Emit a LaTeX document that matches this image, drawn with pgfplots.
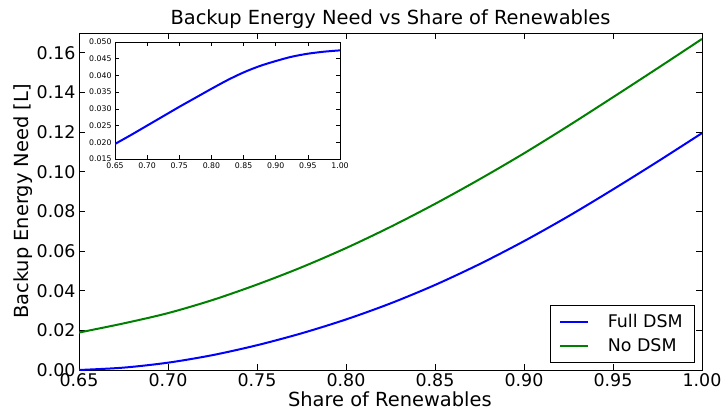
\documentclass[border=0pt]{standalone}
\usepackage{fontspec}
\setmainfont{DejaVu Sans}
\usepackage{pgfplots}
\pgfplotsset{compat=1.18}
\definecolor{mplblue}{rgb}{0,0,1}
\definecolor{mplgreen}{rgb}{0,0.5,0}
\pgfplotsset{
  fx/.style={xticklabel style={/pgf/number format/fixed, /pgf/number format/fixed zerofill, /pgf/number format/precision=#1}},
  fy/.style={yticklabel style={/pgf/number format/fixed, /pgf/number format/fixed zerofill, /pgf/number format/precision=#1}},
}
\begin{document}
\begin{tikzpicture}[x=1bp,y=1bp]
\useasboundingbox (0,0) rectangle (722,410);
\begin{axis}[
  at={(79bp,40bp)}, anchor=south west,
  scale only axis, width=623bp, height=337bp,
  xmin=0.65, xmax=1.0, ymin=0, ymax=0.17,
  xtick={0.65,0.70,...,1.001},
  ytick={0,0.02,...,0.161},
  tick align=inside, major tick length=6bp,
  minor tick num=0,
  /pgf/number format/assume math mode=true,
  fx=2, fy=2,
  scaled ticks=false,
  tick label style={font=\fontsize{17.5}{20}\selectfont},
  label style={font=\fontsize{19.5}{22}\selectfont},
  title style={font=\fontsize{19.5}{22}\selectfont, at={(axis description cs:0.5,1)}, anchor=base, yshift=2.5bp, inner sep=0pt},
  title={Backup Energy Need vs Share of Renewables},
  xlabel={Share of Renewables},
  ylabel={Backup Energy Need [L]},
  xlabel style={at={(axis description cs:0.499,-0.086)}, anchor=center},
  ylabel style={at={(axis description cs:-0.089,0.5)}, anchor=center},
  axis line style={line width=0.8bp},
  every tick/.style={black, line width=0.8bp},
  legend style={at={(0.987,0.024)}, anchor=south east,
    font=\fontsize{17.5}{20}\selectfont, draw=black,
    inner xsep=9bp, inner ysep=7bp, row sep=5bp, cells={anchor=west}},
  legend image code/.code={\draw[#1] (0bp,0bp) -- (28bp,0bp);},
  legend image post style={line width=2bp},
]
\addplot[mplblue, line width=2bp, smooth] coordinates {
(0.65,0.0000) (0.675,0.0012) (0.70,0.0037) (0.725,0.0075) (0.75,0.0125)
(0.775,0.0185) (0.80,0.0255) (0.825,0.0336) (0.85,0.0429) (0.875,0.0534)
(0.90,0.0650) (0.925,0.0776) (0.95,0.0911) (0.975,0.1051) (1.00,0.1195)};
\addlegendentry{\hspace{17bp}Full DSM}
\addplot[mplgreen, line width=2bp, smooth] coordinates {
(0.65,0.0189) (0.675,0.0235) (0.70,0.0287) (0.725,0.0353) (0.75,0.0431)
(0.775,0.0518) (0.80,0.0615) (0.825,0.0722) (0.85,0.0838) (0.875,0.0962)
(0.90,0.1093) (0.925,0.1232) (0.95,0.1376) (0.975,0.1522) (1.00,0.1670)};
\addlegendentry{\hspace{17bp}No DSM}
\end{axis}
\begin{axis}[
  at={(115bp,251bp)}, anchor=south west,
  scale only axis, width=225bp, height=117bp,
  xmin=0.65, xmax=1.0, ymin=0.015, ymax=0.050,
  xtick={0.65,0.70,...,1.001},
  ytick={0.015,0.020,...,0.0501},
  tick align=inside, major tick length=4bp,
  /pgf/number format/assume math mode=true,
  fx=2, fy=3,
  scaled ticks=false,
  tick label style={font=\fontsize{7.8}{9}\selectfont},
  axis line style={line width=0.8bp},
  every tick/.style={black, line width=0.6bp},
  axis background/.style={fill=white},
]
\addplot[mplblue, line width=2bp, smooth] coordinates {
(0.65,0.0195) (0.675,0.0222) (0.70,0.0250) (0.725,0.0278) (0.75,0.0306)
(0.775,0.0333) (0.80,0.0360) (0.825,0.0386) (0.85,0.0409) (0.875,0.0428)
(0.90,0.0443) (0.925,0.0456) (0.95,0.0465) (0.975,0.0471) (1.00,0.0475)};
\end{axis}
\end{tikzpicture}
\end{document}
